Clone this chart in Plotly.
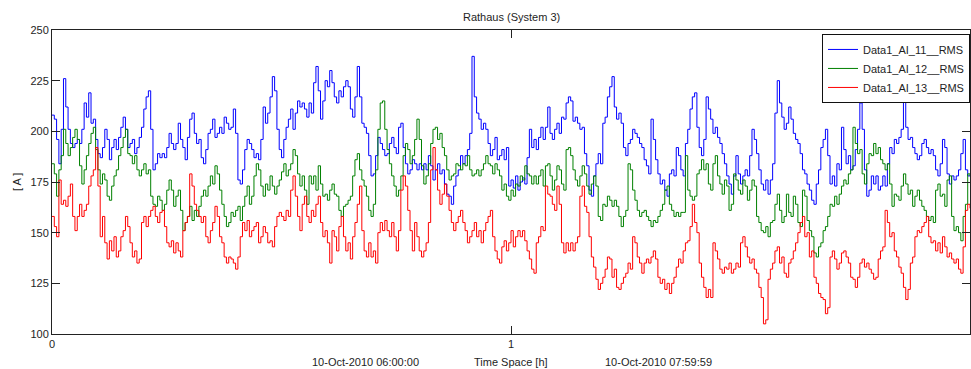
import numpy as np
import plotly.graph_objects as go

# Time axis in hours from 06:00:00 (one reading every 0.005 h)
hours = np.round(np.arange(401) * 0.005, 3)

series_names = ["Data1_AI_11__RMS", "Data1_AI_12__RMS", "Data1_AI_13__RMS"]

ai_11 = [
    208, 206, 196, 184, 201, 226, 212, 201, 194, 192,
    194, 196, 194, 201, 214, 207, 219, 204, 206, 196,
    189, 187, 192, 201, 196, 186, 192, 196, 191, 197,
    202, 207, 201, 192, 194, 196, 189, 192, 197, 202,
    211, 217, 220, 201, 181, 184, 189, 187, 189, 187,
    192, 199, 194, 191, 194, 204, 196, 192, 186, 197,
    206, 209, 199, 194, 196, 187, 184, 191, 199, 201,
    206, 197, 199, 202, 199, 207, 204, 201, 202, 211,
    199, 176, 174, 181, 191, 196, 194, 191, 187, 189,
    186, 196, 212, 204, 209, 217, 227, 220, 201, 191,
    187, 196, 202, 206, 211, 201, 209, 215, 212, 214,
    211, 207, 214, 209, 224, 232, 220, 206, 215, 225,
    222, 230, 224, 217, 214, 220, 217, 222, 225, 222,
    211, 207, 217, 232, 217, 204, 202, 199, 188, 178,
    179, 188, 197, 194, 191, 188, 189, 194, 197, 192,
    189, 202, 204, 192, 184, 179, 181, 186, 184, 181,
    184, 181, 184, 181, 188, 183, 176, 181, 184, 179,
    181, 174, 169, 168, 164, 173, 178, 181, 188, 184,
    188, 191, 199, 237, 217, 209, 206, 201, 204, 201,
    194, 188, 191, 197, 186, 188, 191, 186, 192, 173,
    176, 172, 178, 171, 175, 177, 174, 187, 201, 192,
    196, 191, 197, 202, 196, 202, 212, 199, 196, 201,
    204, 199, 207, 206, 214, 217, 215, 205, 207, 204,
    201, 202, 189, 183, 171, 168, 178, 184, 189, 184,
    204, 207, 217, 222, 227, 212, 206, 209, 204, 192,
    188, 194, 196, 201, 199, 197, 194, 192, 186, 183,
    179, 206, 196, 186, 179, 174, 176, 171, 168, 179,
    181, 178, 192, 188, 181, 178, 194, 201, 211, 217,
    219, 202, 192, 188, 196, 217, 211, 206, 199, 202,
    197, 194, 189, 184, 178, 174, 169, 178, 188, 179,
    174, 178, 181, 178, 188, 201, 196, 189, 181, 174,
    171, 176, 169, 176, 184, 209, 225, 214, 207, 201,
    204, 212, 206, 199, 196, 194, 189, 181, 179, 174,
    171, 166, 164, 174, 181, 192, 196, 201, 188, 174,
    178, 173, 184, 181, 202, 191, 184, 188, 181, 183,
    191, 201, 214, 201, 181, 168, 171, 178, 174, 178,
    171, 173, 178, 173, 184, 192, 189, 196, 194, 197,
    201, 217, 202, 196, 197, 192, 189, 186, 188, 194,
    196, 192, 189, 191, 188, 181, 178, 184, 196, 192,
    179, 174, 178, 176, 178, 181, 189, 196, 181, 178,
    178,
]

ai_12 = [
    184, 179, 168, 181, 188, 201, 194, 188, 192, 197,
    201, 196, 183, 174, 181, 188, 194, 199, 202, 191,
    181, 174, 179, 176, 168, 166, 173, 178, 181, 188,
    192, 197, 201, 189, 188, 184, 188, 181, 178, 181,
    184, 179, 181, 168, 164, 163, 168, 166, 161, 164,
    171, 176, 171, 163, 168, 171, 161, 151, 155, 158,
    163, 156, 161, 158, 163, 168, 171, 168, 173, 178,
    174, 183, 179, 171, 164, 158, 153, 155, 160, 158,
    161, 163, 156, 163, 168, 173, 164, 168, 178, 184,
    181, 173, 168, 174, 171, 178, 173, 169, 173, 176,
    180, 184, 178, 181, 184, 191, 188, 179, 173, 178,
    171, 164, 178, 174, 178, 171, 183, 174, 168, 169,
    166, 171, 174, 169, 168, 161, 158, 163, 164, 166,
    168, 178, 186, 189, 181, 176, 173, 168, 161, 158,
    164, 181, 201, 214, 215, 201, 191, 184, 178, 173,
    168, 171, 178, 188, 194, 191, 184, 188, 196, 206,
    196, 183, 174, 178, 184, 194, 201, 202, 196, 199,
    192, 188, 181, 176, 178, 179, 184, 183, 181, 184,
    183, 188, 181, 178, 179, 181, 178, 181, 184, 188,
    184, 183, 179, 184, 181, 178, 171, 174, 168, 166,
    171, 168, 174, 173, 178, 176, 183, 179, 178, 174,
    178, 174, 178, 181, 173, 183, 184, 178, 171, 176,
    183, 181, 174, 171, 191, 192, 188, 181, 176, 173,
    178, 183, 179, 173, 169, 174, 178, 173, 158, 156,
    164, 163, 168, 166, 163, 166, 163, 158, 153, 158,
    161, 184, 181, 171, 166, 161, 158, 160, 161, 158,
    156, 153, 156, 155, 158, 161, 164, 171, 173, 164,
    161, 158, 160, 158, 160, 160, 188, 171, 168, 166,
    168, 179, 181, 186, 181, 184, 174, 171, 184, 188,
    178, 174, 169, 176, 173, 161, 164, 179, 176, 171,
    169, 176, 173, 166, 171, 176, 173, 158, 155, 151,
    150, 153, 148, 155, 156, 164, 169, 161, 155, 158,
    169, 160, 158, 168, 164, 155, 153, 171, 168, 156,
    151, 148, 140, 138, 143, 145, 151, 153, 158, 164,
    163, 168, 164, 169, 173, 176, 174, 179, 181, 202,
    194, 189, 191, 179, 174, 184, 189, 188, 194, 189,
    192, 186, 184, 181, 184, 174, 163, 169, 168, 166,
    173, 179, 174, 169, 171, 163, 168, 171, 166, 163,
    161, 158, 156, 158, 155, 171, 174, 168, 169, 163,
    176, 178, 158, 151, 153, 150, 146, 158, 164, 179,
    178,
]

ai_13 = [
    158, 153, 148, 176, 164, 166, 163, 168, 174, 158,
    151, 158, 164, 158, 161, 164, 173, 178, 181, 192,
    173, 148, 158, 145, 137, 146, 141, 148, 138, 141,
    148, 151, 158, 153, 145, 138, 141, 135, 137, 155,
    158, 153, 158, 161, 163, 158, 155, 160, 161, 153,
    145, 143, 146, 140, 145, 141, 138, 151, 155, 158,
    179, 173, 164, 161, 158, 155, 158, 148, 145, 151,
    155, 163, 158, 148, 145, 138, 135, 138, 137, 135,
    132, 138, 148, 155, 151, 156, 148, 151, 153, 155,
    145, 148, 153, 150, 145, 146, 143, 153, 158, 160,
    158, 156, 161, 158, 171, 178, 168, 158, 151, 164,
    168, 158, 155, 161, 158, 164, 168, 155, 148, 151,
    145, 135, 151, 148, 141, 153, 158, 148, 141, 145,
    137, 148, 155, 164, 173, 151, 141, 138, 145, 138,
    141, 135, 150, 155, 151, 156, 151, 148, 155, 148,
    141, 151, 171, 178, 173, 161, 151, 141, 155, 148,
    141, 138, 141, 145, 155, 181, 192, 181, 171, 164,
    169, 174, 168, 161, 155, 151, 155, 158, 161, 155,
    151, 145, 148, 151, 155, 148, 151, 145, 151, 155,
    158, 161, 148, 141, 137, 135, 143, 146, 141, 145,
    151, 143, 148, 151, 148, 151, 146, 141, 137, 132,
    130, 145, 148, 153, 151, 173, 169, 168, 164, 161,
    173, 164, 145, 140, 145, 141, 145, 141, 145, 148,
    168, 173, 163, 160, 148, 138, 133, 127, 122, 125,
    128, 132, 138, 137, 128, 132, 123, 122, 125, 128,
    130, 135, 132, 148, 145, 138, 135, 130, 135, 137,
    135, 138, 141, 137, 128, 125, 127, 122, 125, 120,
    125, 128, 133, 137, 135, 141, 145, 146, 153, 164,
    155, 150, 135, 128, 123, 118, 122, 118, 145, 141,
    137, 132, 130, 133, 132, 135, 130, 132, 135, 133,
    145, 148, 143, 138, 135, 137, 132, 130, 123, 118,
    105, 107, 127, 132, 135, 141, 143, 135, 138, 130,
    128, 135, 137, 141, 145, 150, 155, 158, 148, 150,
    138, 141, 128, 125, 120, 118, 117, 110, 113, 138,
    141, 137, 132, 135, 140, 141, 138, 135, 128, 127,
    123, 128, 135, 137, 133, 135, 132, 130, 127, 128,
    137, 141, 143, 161, 155, 148, 150, 141, 138, 133,
    130, 123, 117, 122, 135, 138, 148, 151, 150, 153,
    155, 158, 148, 145, 146, 141, 145, 140, 148, 143,
    138, 140, 137, 135, 137, 132, 130, 143, 161, 164,
    162,
]

for vals in (ai_11, ai_12, ai_13):
    assert len(vals) == len(hours)

line_colors = ["#0000ff", "#008000", "#ff0000"]

y_ticks = [100, 125, 150, 175, 200, 225, 250]
x_ticks = [0, 1]

start_label = "10-Oct-2010 06:00:00"
end_label = "10-Oct-2010 07:59:59"
x_title = "Time Space [h]"
y_title = "[ A ]"
chart_title = "Rathaus (System 3)"

FONT = "Arial, Liberation Sans, sans-serif"
TXT = "#1e1e1e"

fig = go.Figure()
for name, vals, col in zip(series_names, [ai_11, ai_12, ai_13], line_colors):
    fig.add_trace(go.Scatter(
        x=hours, y=vals, name=name, mode="lines",
        line=dict(color=col, width=1, shape="hv"),
    ))

fig.update_layout(
    width=971, height=369,
    margin=dict(l=52, r=1, t=30, b=35),
    paper_bgcolor="white", plot_bgcolor="white",
    font=dict(family=FONT, size=11, color=TXT),
    showlegend=True,
    legend=dict(
        x=1, xanchor="right", y=0.987, yanchor="top",
        bgcolor="white", bordercolor="#111", borderwidth=1,
        font=dict(family=FONT, size=11, color=TXT),
        tracegroupgap=0, itemwidth=30,
    ),
    xaxis=dict(
        range=[0, 2], tickvals=x_ticks, ticktext=[str(v) for v in x_ticks],
        ticks="inside", ticklen=8, tickcolor="#222", tickwidth=1,
        showline=True, linecolor="#222", linewidth=1, mirror="ticks",
        showgrid=False, zeroline=False,
        tickfont=dict(family=FONT, size=11, color=TXT),
    ),
    yaxis=dict(
        range=[100, 250], tickvals=y_ticks,
        ticks="inside", ticklen=8, tickcolor="#222", tickwidth=1,
        showline=True, linecolor="#222", linewidth=1, mirror="ticks",
        showgrid=False, zeroline=False,
        tickfont=dict(family=FONT, size=11, color=TXT),
    ),
    annotations=[
        dict(text=chart_title, xref="paper", yref="paper", x=0.5, y=1.043,
             showarrow=False, xanchor="center", yanchor="middle",
             font=dict(family=FONT, size=11, color=TXT)),
        dict(text=y_title, xref="paper", yref="paper", x=-0.038, y=0.5,
             showarrow=False, textangle=-90, xanchor="center", yanchor="middle",
             font=dict(family=FONT, size=11, color=TXT)),
        dict(text=start_label, xref="x", yref="paper", x=0.683, y=-0.092,
             showarrow=False, xanchor="center", yanchor="middle",
             font=dict(family=FONT, size=11, color=TXT)),
        dict(text=x_title, xref="x", yref="paper", x=1.0, y=-0.092,
             showarrow=False, xanchor="center", yanchor="middle",
             font=dict(family=FONT, size=11, color=TXT)),
        dict(text=end_label, xref="x", yref="paper", x=1.321, y=-0.092,
             showarrow=False, xanchor="center", yanchor="middle",
             font=dict(family=FONT, size=11, color=TXT)),
    ],
)

fig.write_html("out.html")
